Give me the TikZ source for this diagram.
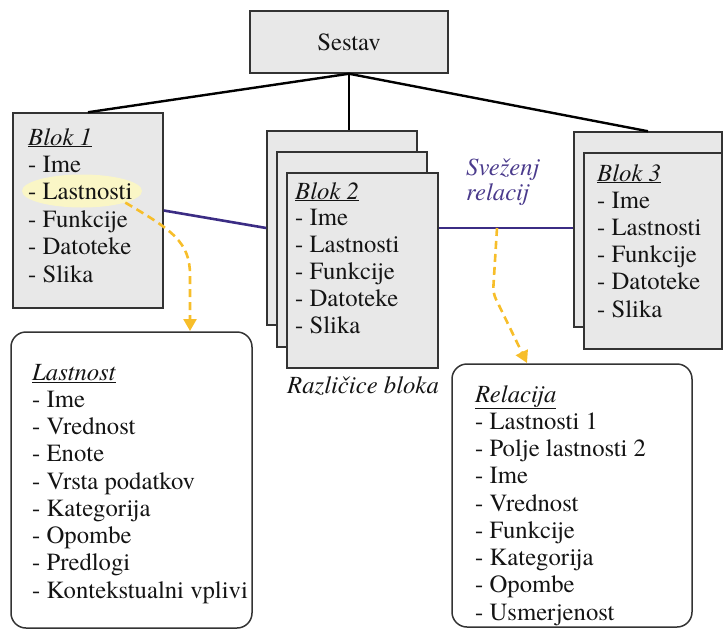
\documentclass[tikz,border=0pt]{standalone}
\usepackage{fontspec}
\setmainfont{texgyretermes-regular.otf}[ItalicFont=texgyretermes-italic.otf, BoldFont=texgyretermes-bold.otf, BoldItalicFont=texgyretermes-bolditalic.otf]
\usetikzlibrary{arrows.meta,shapes.geometric}
\definecolor{boxgray}{HTML}{E8E8E8}
\definecolor{boxline}{HTML}{333333}
\definecolor{txtcol}{HTML}{141414}
\definecolor{relpurple}{HTML}{3B2C84}
\definecolor{labpurple}{HTML}{4A3A8C}
\definecolor{dashyellow}{HTML}{F7BE2A}
\definecolor{hlyellow}{HTML}{FAF6C6}
\tikzset{
  graybox/.style={draw=boxline, fill=boxgray, line width=1.5pt, inner sep=0pt},
  roundbox/.style={draw=boxline, fill=white, line width=1.5pt, rounded corners=15pt, inner sep=0pt},
  txt/.style={font=\fontsize{24.7}{27.3}\selectfont, text=txtcol, inner sep=0pt},
  tree/.style={line width=2.4pt, black},
  rel/.style={line width=2.6pt, relpurple},
  yarrow/.style={line width=2.6pt, dashyellow, dash pattern=on 8pt off 5pt,
    -{Triangle[length=12pt,width=13pt]}},
}
\begin{document}
\begin{tikzpicture}[x=1pt,y=-1pt]
\useasboundingbox (0,0) rectangle (724,630);

% top box
\node[graybox, minimum width=198pt, minimum height=62pt, txt] (s) at (349,42) {Sestav};

% Blok 1
\node[graybox, minimum width=150pt, minimum height=195pt] (b1) at (88,210.5) {};
\node[ellipse, fill=hlyellow, minimum width=120pt, minimum height=33pt, inner sep=0pt] (hl) at (82,191) {};
\foreach \t [count=\i from 0] in {{\underline{\textit{Blok 1}}},- Ime,- Lastnosti,- Funkcije,- Datoteke,- Slika}
  \node[txt, anchor=base west] (b1t\i) at (28,{145+27.4*\i}) {\t};

% Blok 2 stack
\node[graybox, minimum width=150pt, minimum height=194pt] (b2a) at (342,228) {};
\node[graybox, minimum width=150pt, minimum height=195pt] (b2b) at (352,249.5) {};
\node[graybox, minimum width=151pt, minimum height=195pt] (b2c) at (362.5,270.5) {};
\foreach \t [count=\i from 0] in {{\underline{\textit{Blok 2}}},- Ime,- Lastnosti,- Funkcije,- Datoteke,- Slika}
  \node[txt, anchor=base west] (b2t\i) at (295,{199+26.9*\i}) {\t};

% Blok 3 stack
\node[graybox, minimum width=148pt, minimum height=195pt] (b3a) at (648,229.5) {};
\node[graybox, minimum width=138pt, minimum height=196pt] (b3b) at (653,251) {};
\foreach \t [count=\i from 0] in {{\underline{\textit{Blok 3}}},- Ime,- Lastnosti,- Funkcije,- Datoteke,- Slika}
  \node[txt, anchor=base west] (b3t\i) at (597,{181+27.2*\i}) {\t};

% label under Blok 2
\node[txt, anchor=base west] (var) at (287,393) {\textit{Različice bloka}};

% Lastnost box
\node[roundbox, minimum width=241pt, minimum height=296pt] (lp) at (131.5,480) {};
\foreach \t [count=\i from 0] in {{\underline{\textit{Lastnost}}},- Ime,- Vrednost,- Enote,- Vrsta podatkov,- Kategorija,- Opombe,- Predlogi,- Kontekstualni vplivi}
  \node[txt, anchor=base west] (lpt\i) at (32,{380+27.25*\i}) {\t};

% Relacija box
\node[roundbox, minimum width=240pt, minimum height=263pt] (rl) at (572,495.5) {};
\foreach \t [count=\i from 0] in {{\underline{\textit{Relacija}}},- Lastnosti 1,- Polje lastnosti 2,- Ime,- Vrednost,- Funkcije,- Kategorija,- Opombe,- Usmerjenost}
  \node[txt, anchor=base west] (rlt\i) at (475,{402+27.25*\i}) {\t};

% tree connectors
\draw[tree] (s.south) -- (b1.north);
\draw[tree] (s.south) -- (s.south |- b2a.north);
\draw[tree] (s.south) -- (b3a.north);

% relation bundle
\draw[rel] (b1.east) -- (b2a.west);
\draw[rel] (b2c.east |- b2a.west) -- (b3a.west |- b2a.west);
\node[txt, anchor=base west, text=labpurple] (sv1) at (466,175) {\textit{Sveženj}};
\node[txt, anchor=base west, text=labpurple] (sv2) at (466,200) {\textit{relacij}};

% yellow dashed arrows
\coordinate (relpt) at (497,228);
\coordinate (lpin) at (190,331);
\coordinate (rlin) at (527,363);
\draw[yarrow] (hl.-15) .. controls (172,230) and (190,242) .. (190,275) -- (lpin);
\draw[yarrow, rounded corners=6pt] (relpt) -- (493,293) -- (rlin);
\end{tikzpicture}
\end{document}
